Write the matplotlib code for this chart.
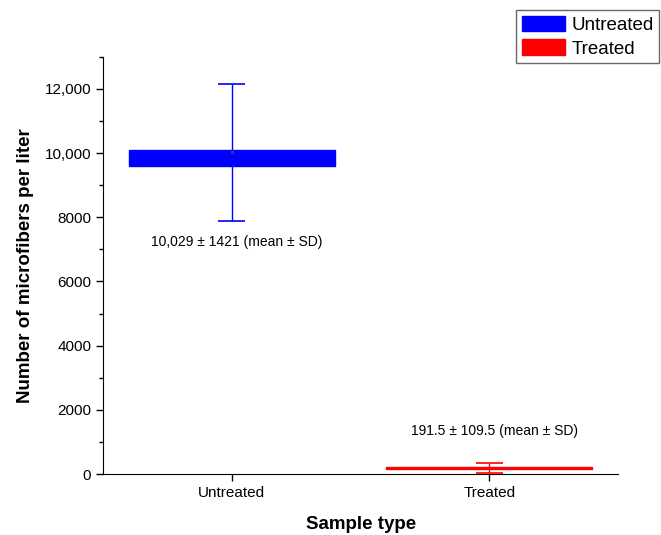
import matplotlib
matplotlib.use('Agg')
import matplotlib.pyplot as plt
from matplotlib.patches import Patch
from matplotlib.ticker import MultipleLocator, FuncFormatter

plt.rcParams['font.family'] = ['Liberation Sans', 'DejaVu Sans']

# Data
categories = ['Untreated', 'Treated']
colors = ['#0000ff', '#ff0000']
box_low = [9580, 160]
box_high = [10100, 225]
whisker_low = [7880, 20]
whisker_high = [12150, 355]
means = [10029, 191.5]
labels = ['10,029 \u00b1 1421 (mean \u00b1 SD)', '191.5 \u00b1 109.5 (mean \u00b1 SD)']
label_y = [7240, 1350]

fig = plt.figure(figsize=(6.61, 5.35), dpi=100)
ax = fig.add_axes([0.156, 0.114, 0.779, 0.78])

pos = [1, 2]
for i, p in enumerate(pos):
    c = colors[i]
    ax.bar(p, box_high[i] - box_low[i], bottom=box_low[i], width=0.8,
           color=c, edgecolor=c, linewidth=1, zorder=2)
    ax.vlines(p, whisker_low[i], whisker_high[i], color=c, lw=1, zorder=3)
    ax.hlines([whisker_low[i], whisker_high[i]], p - 0.053, p + 0.053, color=c, lw=1.2, zorder=3)
    ax.text(p + 0.02, label_y[i], labels[i], ha='center', va='center', fontsize=10)
ax.plot(pos[0], means[0], 's', color='#3030aa', ms=2, zorder=4)

ax.set_xlim(0.5, 2.5)
ax.set_ylim(0, 13000)
ax.set_xticks(pos)
ax.set_xticklabels(categories)
ax.yaxis.set_major_locator(MultipleLocator(2000))
ax.yaxis.set_minor_locator(MultipleLocator(1000))
ax.yaxis.set_major_formatter(FuncFormatter(lambda v, _: f'{int(v):,}' if v >= 10000 else f'{int(v)}'))
ax.tick_params(axis='both', labelsize=11, direction='out', length=5, width=1)
ax.tick_params(axis='y', which='minor', length=3, width=1)
ax.spines['top'].set_visible(False)
ax.spines['right'].set_visible(False)

ax.set_xlabel('Sample type', fontsize=13.5, fontweight='bold', labelpad=12)
ax.set_ylabel('Number of microfibers per liter', fontsize=13.5, fontweight='bold', labelpad=8)

handles = [Patch(facecolor=c, edgecolor=c) for c in colors]
fig.legend(handles, categories, loc='upper right', bbox_to_anchor=(1.0, 0.985),
           fontsize=13.5, frameon=True, fancybox=False, edgecolor='#444444',
           handlelength=2.3, handleheight=0.9, handletextpad=0.35, borderpad=0.3,
           labelspacing=0.3, borderaxespad=0.1)

fig.savefig('out.png', dpi=100)
